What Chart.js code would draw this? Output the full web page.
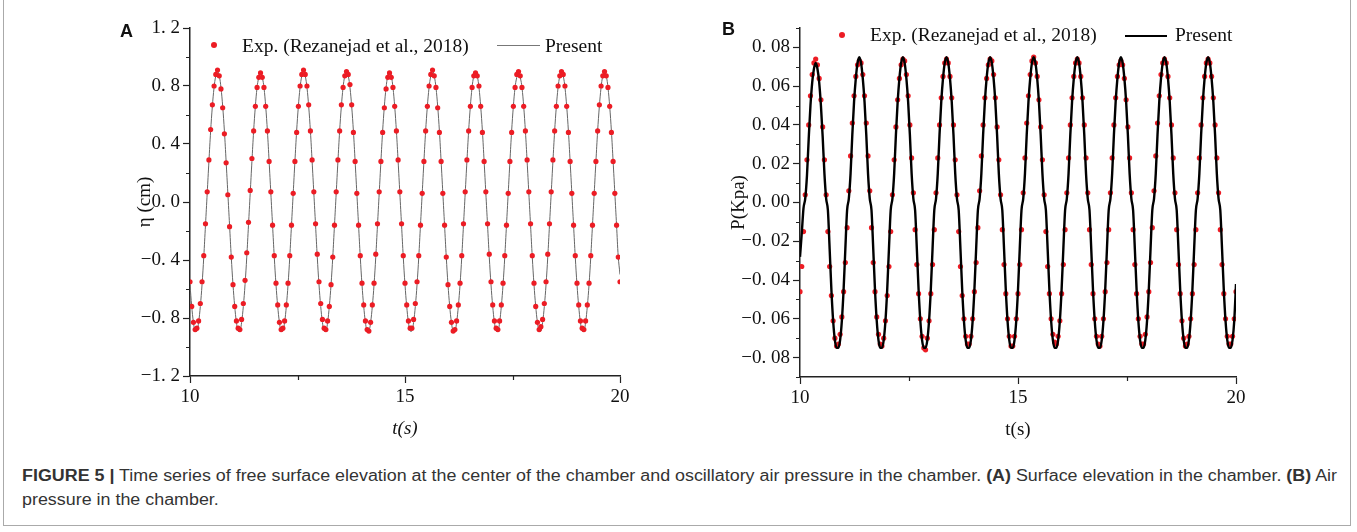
<!DOCTYPE html>
<html>
<head>
<meta charset="utf-8">
<script src="https://cdn.jsdelivr.net/npm/chart.js@4.4.0/dist/chart.umd.min.js"></script>
<style>
  body { margin: 0; background: #fff; }
  #fig { position: relative; width: 1357px; height: 532px; overflow: hidden; }
  #frame { position: absolute; left: 3px; top: -2px; width: 1348px; height: 528px; border: 1px solid #aaa; box-sizing: border-box; }
  canvas { position: absolute; }
  .panel { position: absolute; font: bold 18px "Liberation Sans", Arial, sans-serif; color: #111; }
  .legend { position: absolute; font: 19.5px "Liberation Serif", "Times New Roman", serif; color: #111; white-space: nowrap; line-height: 22px; }
  .dot { position: absolute; width: 6px; height: 6px; border-radius: 50%; background: #ec1c24; }
  .seg { position: absolute; }
  #caption { position: absolute; left: 22px; top: 464px; font: 16px "Liberation Sans", Arial, sans-serif; color: #333; line-height: 24px; white-space: nowrap; transform-origin: 0 0; }
</style>
</head>
<body>
<div id="fig">
  <div id="frame"></div>
  <canvas id="chartA" width="540" height="450" style="left:100px; top:0px; width:540px; height:450px;"></canvas>
  <canvas id="chartB" width="560" height="450" style="left:700px; top:0px; width:560px; height:450px;"></canvas>

  <div class="panel" style="left:120px; top:21px;">A</div>
  <div class="panel" style="left:722px; top:19px;">B</div>

  <div class="dot" style="left:211px; top:42px;"></div>
  <div class="legend" style="left:242px; top:35px;">Exp. (Rezanejad et al., 2018)</div>
  <div class="seg" style="left:497px; top:45px; width:43px; height:1px; background:#777;"></div>
  <div class="legend" style="left:545px; top:35px;">Present</div>

  <div class="dot" style="left:839px; top:32px;"></div>
  <div class="legend" style="left:870px; top:24px;">Exp. (Rezanejad et al., 2018)</div>
  <div class="seg" style="left:1125px; top:35px; width:42px; height:2px; background:#000;"></div>
  <div class="legend" style="left:1175px; top:24px;">Present</div>

  <div id="caption"><span id="cap1"><b>FIGURE 5 |</b> Time series of free surface elevation at the center of the chamber and oscillatory air pressure in the chamber. <b>(A)</b> Surface elevation in the chamber. <b>(B)</b> Air</span><br><span>pressure in the chamber.</span></div>
</div>

<script>
// sample times (s), shared by both panels
const time = [
  10, 10.04, 10.08, 10.12, 10.16, 10.2, 10.24, 10.28, 10.32, 10.36, 10.4, 10.44, 10.48, 10.52, 10.56, 10.6, 10.64, 10.68, 10.72, 10.76, 10.8, 10.84, 10.88, 10.92, 10.96,
  11, 11.04, 11.08, 11.12, 11.16, 11.2, 11.24, 11.28, 11.32, 11.36, 11.4, 11.44, 11.48, 11.52, 11.56, 11.6, 11.64, 11.68, 11.72, 11.76, 11.8, 11.84, 11.88, 11.92, 11.96,
  12, 12.04, 12.08, 12.12, 12.16, 12.2, 12.24, 12.28, 12.32, 12.36, 12.4, 12.44, 12.48, 12.52, 12.56, 12.6, 12.64, 12.68, 12.72, 12.76, 12.8, 12.84, 12.88, 12.92, 12.96,
  13, 13.04, 13.08, 13.12, 13.16, 13.2, 13.24, 13.28, 13.32, 13.36, 13.4, 13.44, 13.48, 13.52, 13.56, 13.6, 13.64, 13.68, 13.72, 13.76, 13.8, 13.84, 13.88, 13.92, 13.96,
  14, 14.04, 14.08, 14.12, 14.16, 14.2, 14.24, 14.28, 14.32, 14.36, 14.4, 14.44, 14.48, 14.52, 14.56, 14.6, 14.64, 14.68, 14.72, 14.76, 14.8, 14.84, 14.88, 14.92, 14.96,
  15, 15.04, 15.08, 15.12, 15.16, 15.2, 15.24, 15.28, 15.32, 15.36, 15.4, 15.44, 15.48, 15.52, 15.56, 15.6, 15.64, 15.68, 15.72, 15.76, 15.8, 15.84, 15.88, 15.92, 15.96,
  16, 16.04, 16.08, 16.12, 16.16, 16.2, 16.24, 16.28, 16.32, 16.36, 16.4, 16.44, 16.48, 16.52, 16.56, 16.6, 16.64, 16.68, 16.72, 16.76, 16.8, 16.84, 16.88, 16.92, 16.96,
  17, 17.04, 17.08, 17.12, 17.16, 17.2, 17.24, 17.28, 17.32, 17.36, 17.4, 17.44, 17.48, 17.52, 17.56, 17.6, 17.64, 17.68, 17.72, 17.76, 17.8, 17.84, 17.88, 17.92, 17.96,
  18, 18.04, 18.08, 18.12, 18.16, 18.2, 18.24, 18.28, 18.32, 18.36, 18.4, 18.44, 18.48, 18.52, 18.56, 18.6, 18.64, 18.68, 18.72, 18.76, 18.8, 18.84, 18.88, 18.92, 18.96,
  19, 19.04, 19.08, 19.12, 19.16, 19.2, 19.24, 19.28, 19.32, 19.36, 19.4, 19.44, 19.48, 19.52, 19.56, 19.6, 19.64, 19.68, 19.72, 19.76, 19.8, 19.84, 19.88, 19.92, 19.96,
  20
];

// panel A: free surface elevation (cm)
const etaExp = [
  -0.55, -0.72, -0.83, -0.88, -0.87, -0.82, -0.70, -0.55, -0.37, -0.15, 0.07, 0.29, 0.50, 0.67, 0.80, 0.88, 0.91, 0.87, 0.78, 0.65, 0.47, 0.27, 0.05, -0.17, -0.38,
  -0.57, -0.72, -0.82, -0.87, -0.88, -0.81, -0.70, -0.54, -0.35, -0.14, 0.08, 0.30, 0.49, 0.66, 0.79, 0.86, 0.89, 0.86, 0.79, 0.66, 0.49, 0.28, 0.07, -0.16, -0.37,
  -0.56, -0.71, -0.83, -0.88, -0.87, -0.82, -0.71, -0.56, -0.37, -0.16, 0.06, 0.28, 0.48, 0.66, 0.80, 0.88, 0.91, 0.88, 0.80, 0.67, 0.49, 0.29, 0.07, -0.15, -0.36,
  -0.55, -0.70, -0.81, -0.87, -0.88, -0.82, -0.72, -0.57, -0.38, -0.16, 0.07, 0.29, 0.49, 0.67, 0.79, 0.87, 0.90, 0.88, 0.81, 0.67, 0.48, 0.28, 0.06, -0.16, -0.37,
  -0.56, -0.71, -0.82, -0.88, -0.89, -0.83, -0.71, -0.56, -0.36, -0.15, 0.07, 0.28, 0.48, 0.65, 0.78, 0.86, 0.89, 0.86, 0.79, 0.66, 0.49, 0.29, 0.07, -0.15, -0.37,
  -0.56, -0.71, -0.82, -0.87, -0.87, -0.81, -0.70, -0.55, -0.37, -0.16, 0.06, 0.28, 0.49, 0.66, 0.80, 0.88, 0.91, 0.87, 0.79, 0.65, 0.48, 0.28, 0.06, -0.16, -0.38,
  -0.57, -0.72, -0.83, -0.89, -0.88, -0.82, -0.71, -0.56, -0.37, -0.15, 0.07, 0.29, 0.49, 0.66, 0.79, 0.87, 0.89, 0.87, 0.80, 0.66, 0.48, 0.28, 0.07, -0.15, -0.36,
  -0.55, -0.71, -0.82, -0.87, -0.88, -0.82, -0.71, -0.56, -0.37, -0.16, 0.06, 0.28, 0.48, 0.66, 0.79, 0.88, 0.90, 0.87, 0.79, 0.66, 0.49, 0.29, 0.07, -0.15, -0.37,
  -0.56, -0.72, -0.83, -0.88, -0.86, -0.81, -0.70, -0.55, -0.36, -0.15, 0.07, 0.29, 0.49, 0.66, 0.80, 0.87, 0.90, 0.88, 0.80, 0.66, 0.48, 0.28, 0.06, -0.16, -0.37,
  -0.56, -0.71, -0.82, -0.87, -0.88, -0.82, -0.71, -0.56, -0.37, -0.16, 0.06, 0.28, 0.49, 0.67, 0.80, 0.87, 0.90, 0.87, 0.79, 0.66, 0.48, 0.28, 0.06, -0.16, -0.38,
  -0.55
];
const etaSim = [
  -0.57, -0.72, -0.83, -0.89, -0.89, -0.83, -0.72, -0.57, -0.38, -0.16, 0.06, 0.28, 0.49, 0.66, 0.79, 0.87, 0.90, 0.87, 0.79, 0.66, 0.49, 0.28, 0.06, -0.16, -0.38,
  -0.57, -0.72, -0.83, -0.89, -0.89, -0.83, -0.72, -0.57, -0.38, -0.16, 0.06, 0.28, 0.49, 0.66, 0.79, 0.86, 0.89, 0.86, 0.79, 0.66, 0.49, 0.28, 0.06, -0.16, -0.38,
  -0.57, -0.72, -0.83, -0.89, -0.89, -0.83, -0.72, -0.57, -0.38, -0.16, 0.06, 0.28, 0.49, 0.66, 0.79, 0.87, 0.91, 0.87, 0.79, 0.66, 0.49, 0.28, 0.06, -0.16, -0.38,
  -0.57, -0.72, -0.83, -0.89, -0.89, -0.83, -0.72, -0.57, -0.38, -0.16, 0.06, 0.28, 0.49, 0.66, 0.79, 0.87, 0.90, 0.87, 0.79, 0.66, 0.49, 0.28, 0.06, -0.16, -0.38,
  -0.57, -0.72, -0.83, -0.89, -0.89, -0.83, -0.72, -0.57, -0.38, -0.16, 0.06, 0.28, 0.49, 0.66, 0.79, 0.87, 0.90, 0.87, 0.79, 0.66, 0.49, 0.28, 0.06, -0.16, -0.38,
  -0.57, -0.72, -0.83, -0.89, -0.89, -0.83, -0.72, -0.57, -0.38, -0.16, 0.06, 0.28, 0.49, 0.66, 0.79, 0.87, 0.91, 0.87, 0.79, 0.66, 0.49, 0.28, 0.06, -0.16, -0.38,
  -0.57, -0.72, -0.83, -0.89, -0.89, -0.83, -0.72, -0.57, -0.38, -0.16, 0.06, 0.28, 0.49, 0.66, 0.79, 0.87, 0.90, 0.87, 0.79, 0.66, 0.49, 0.28, 0.06, -0.16, -0.38,
  -0.57, -0.72, -0.83, -0.89, -0.89, -0.83, -0.72, -0.57, -0.38, -0.16, 0.06, 0.28, 0.49, 0.66, 0.79, 0.86, 0.89, 0.86, 0.79, 0.66, 0.49, 0.28, 0.06, -0.16, -0.38,
  -0.57, -0.72, -0.83, -0.89, -0.89, -0.83, -0.72, -0.57, -0.38, -0.16, 0.06, 0.28, 0.49, 0.66, 0.79, 0.87, 0.91, 0.87, 0.79, 0.66, 0.49, 0.28, 0.06, -0.16, -0.38,
  -0.57, -0.72, -0.83, -0.89, -0.89, -0.83, -0.72, -0.57, -0.38, -0.16, 0.06, 0.28, 0.49, 0.66, 0.79, 0.87, 0.90, 0.87, 0.79, 0.66, 0.49, 0.28, 0.06, -0.16, -0.38,
  -0.50
];

// panel B: air pressure (kPa)
const pExp = [
  -0.046, -0.033, -0.015, 0.004, 0.022, 0.040, 0.055, 0.066, 0.072, 0.074, 0.071, 0.064, 0.053, 0.039, 0.022, 0.004, -0.015, -0.033, -0.048, -0.061, -0.070, -0.074, -0.073, -0.068, -0.059,
  -0.046, -0.031, -0.013, 0.006, 0.024, 0.041, 0.055, 0.065, 0.071, 0.073, 0.072, 0.066, 0.055, 0.041, 0.024, 0.006, -0.013, -0.031, -0.046, -0.059, -0.068, -0.073, -0.074, -0.070, -0.061,
  -0.048, -0.033, -0.015, 0.004, 0.022, 0.039, 0.053, 0.064, 0.071, 0.074, 0.073, 0.066, 0.055, 0.040, 0.023, 0.005, -0.014, -0.032, -0.047, -0.060, -0.069, -0.075, -0.076, -0.070, -0.061,
  -0.047, -0.032, -0.014, 0.005, 0.023, 0.040, 0.054, 0.065, 0.072, 0.074, 0.072, 0.065, 0.054, 0.040, 0.022, 0.004, -0.015, -0.033, -0.048, -0.060, -0.069, -0.073, -0.073, -0.069, -0.060,
  -0.046, -0.031, -0.013, 0.006, 0.024, 0.040, 0.054, 0.064, 0.071, 0.074, 0.073, 0.066, 0.054, 0.039, 0.022, 0.004, -0.014, -0.032, -0.047, -0.060, -0.069, -0.074, -0.074, -0.069, -0.060,
  -0.047, -0.032, -0.014, 0.005, 0.023, 0.041, 0.055, 0.066, 0.073, 0.075, 0.072, 0.065, 0.053, 0.039, 0.022, 0.004, -0.015, -0.033, -0.047, -0.060, -0.068, -0.072, -0.073, -0.069, -0.061,
  -0.047, -0.032, -0.014, 0.005, 0.023, 0.040, 0.054, 0.065, 0.072, 0.074, 0.072, 0.065, 0.054, 0.040, 0.023, 0.005, -0.014, -0.032, -0.047, -0.060, -0.069, -0.073, -0.074, -0.069, -0.060,
  -0.046, -0.031, -0.014, 0.005, 0.023, 0.040, 0.054, 0.065, 0.071, 0.073, 0.071, 0.064, 0.053, 0.039, 0.023, 0.005, -0.014, -0.032, -0.047, -0.060, -0.069, -0.073, -0.073, -0.068, -0.059,
  -0.046, -0.031, -0.013, 0.006, 0.024, 0.041, 0.055, 0.066, 0.072, 0.074, 0.072, 0.065, 0.054, 0.040, 0.023, 0.005, -0.014, -0.032, -0.047, -0.061, -0.070, -0.074, -0.073, -0.069, -0.060,
  -0.047, -0.032, -0.014, 0.005, 0.023, 0.040, 0.054, 0.065, 0.072, 0.074, 0.072, 0.065, 0.054, 0.040, 0.023, 0.005, -0.014, -0.032, -0.047, -0.060, -0.069, -0.073, -0.073, -0.069, -0.060,
  -0.046
];
const pSim = [
  -0.028, -0.016, -0.003, 0.002, 0.014, 0.033, 0.050, 0.062, 0.069, 0.072, 0.069, 0.062, 0.050, 0.034, 0.015, 0.002, -0.004, -0.024, -0.045, -0.061, -0.071, -0.075, -0.075, -0.071, -0.061,
  -0.045, -0.024, -0.004, 0.002, 0.015, 0.035, 0.052, 0.064, 0.072, 0.075, 0.072, 0.064, 0.052, 0.035, 0.015, 0.002, -0.004, -0.024, -0.045, -0.061, -0.071, -0.075, -0.075, -0.071, -0.061,
  -0.045, -0.024, -0.004, 0.002, 0.015, 0.035, 0.052, 0.064, 0.072, 0.075, 0.072, 0.064, 0.052, 0.035, 0.015, 0.002, -0.004, -0.024, -0.045, -0.061, -0.071, -0.075, -0.075, -0.071, -0.061,
  -0.045, -0.024, -0.004, 0.002, 0.015, 0.035, 0.052, 0.064, 0.072, 0.075, 0.072, 0.064, 0.052, 0.035, 0.015, 0.002, -0.004, -0.024, -0.045, -0.061, -0.071, -0.075, -0.075, -0.071, -0.061,
  -0.045, -0.024, -0.004, 0.002, 0.015, 0.035, 0.052, 0.064, 0.072, 0.075, 0.072, 0.064, 0.052, 0.035, 0.015, 0.002, -0.004, -0.024, -0.045, -0.061, -0.071, -0.075, -0.075, -0.071, -0.061,
  -0.045, -0.024, -0.004, 0.002, 0.015, 0.035, 0.052, 0.064, 0.072, 0.075, 0.072, 0.064, 0.052, 0.035, 0.015, 0.002, -0.004, -0.024, -0.045, -0.061, -0.071, -0.075, -0.075, -0.071, -0.061,
  -0.045, -0.024, -0.004, 0.002, 0.015, 0.035, 0.052, 0.064, 0.072, 0.075, 0.072, 0.064, 0.052, 0.035, 0.015, 0.002, -0.004, -0.024, -0.045, -0.061, -0.071, -0.075, -0.075, -0.071, -0.061,
  -0.045, -0.024, -0.004, 0.002, 0.015, 0.035, 0.052, 0.064, 0.072, 0.075, 0.072, 0.064, 0.052, 0.035, 0.015, 0.002, -0.004, -0.024, -0.045, -0.061, -0.071, -0.075, -0.075, -0.071, -0.061,
  -0.045, -0.024, -0.004, 0.002, 0.015, 0.035, 0.052, 0.064, 0.072, 0.075, 0.072, 0.064, 0.052, 0.035, 0.015, 0.002, -0.004, -0.024, -0.045, -0.061, -0.071, -0.075, -0.075, -0.071, -0.061,
  -0.045, -0.024, -0.004, 0.002, 0.015, 0.035, 0.052, 0.064, 0.072, 0.075, 0.072, 0.064, 0.052, 0.035, 0.015, 0.002, -0.004, -0.024, -0.045, -0.061, -0.071, -0.075, -0.075, -0.071, -0.061,
  -0.042
];

// ticks
const xTicks = [10, 15, 20];
const xMinor = [12.5, 17.5];
const yTicksA = [-1.2, -0.8, -0.4, 0, 0.4, 0.8, 1.2];
const yMinorA = [-1.0, -0.6, -0.2, 0.2, 0.6, 1.0];
const yTicksB = [-0.08, -0.06, -0.04, -0.02, 0, 0.02, 0.04, 0.06, 0.08];
const yMinorB = [-0.09, -0.07, -0.05, -0.03, -0.01, 0.01, 0.03, 0.05, 0.07, 0.09];

const serif = '"Liberation Serif", "Times New Roman", serif';
const axisColor = '#222';

// "0. 08" style labels like the original plot
function fmt(v, d) {
    let s = Math.abs(v).toFixed(d).replace('.', '. ');
    return (v < -1e-9 ? '\u2212' : '') + s;
}

const minorTicks = {
    id: 'minorTicks',
    afterDraw(chart, args, opts) {
        let ctx = chart.ctx;
        let xs = chart.scales.x, ys = chart.scales.y;
        ctx.save();
        ctx.strokeStyle = axisColor;
        ctx.lineWidth = 1.2;
        ctx.beginPath();
        opts.x.forEach(v => {
            let px = Math.round(xs.getPixelForValue(v)) + 0.5;
            ctx.moveTo(px, xs.top);
            ctx.lineTo(px, xs.top + 4);
        });
        opts.y.forEach(v => {
            let py = Math.round(ys.getPixelForValue(v)) + 0.5;
            ctx.moveTo(ys.right, py);
            ctx.lineTo(ys.right - 4, py);
        });
        ctx.stroke();
        ctx.restore();
    }
};

function pts(ys) {
    return time.map((t, i) => ({x: t, y: ys[i]}));
}

function makeChart(id, o) {
    return new Chart(document.getElementById(id), {
        type: 'line',
        data: { datasets: o.datasets },
        plugins: [minorTicks],
        options: {
            responsive: false,
            animation: false,
            layout: { padding: o.padding },
            plugins: {
                legend: { display: false },
                tooltip: { enabled: false },
                minorTicks: { x: xMinor, y: o.yMinor }
            },
            scales: {
                x: {
                    type: 'linear', min: 10, max: 20,
                    afterBuildTicks: s => { s.ticks = xTicks.map(v => ({value: v})); },
                    afterFit: s => { s.height = o.xHeight; },
                    grid: { drawOnChartArea: false, tickLength: 7, tickColor: axisColor, tickWidth: 1.2 },
                    border: { color: axisColor, width: 1.5 },
                    ticks: { font: {family: serif, size: 19}, color: '#111', padding: 3, maxRotation: 0, autoSkip: false },
                    title: { display: true, text: 't(s)', color: '#111',
                             font: {family: serif, size: 19, style: o.xStyle},
                             padding: {top: 0, bottom: o.xTitlePad} }
                },
                y: {
                    type: 'linear', min: o.yMin, max: o.yMax,
                    afterBuildTicks: s => { s.ticks = o.yTicks.map(v => ({value: v})); },
                    afterFit: s => { s.width = o.yWidth; },
                    grid: { drawOnChartArea: false, tickLength: 7, tickColor: axisColor, tickWidth: 1.2 },
                    border: { color: axisColor, width: 1.5 },
                    ticks: { font: {family: serif, size: 19}, color: '#111', padding: 3, autoSkip: false,
                             callback: v => fmt(v, o.dec) },
                    title: { display: true, text: o.yTitle, color: '#111',
                             font: {family: serif, size: 19}, padding: {top: 0, bottom: 0} }
                }
            }
        }
    });
}

makeChart('chartA', {
    padding: {left: 34, right: 20, top: 28, bottom: 0},
    xHeight: 74, yWidth: 56, xTitlePad: 10, xStyle: 'italic',
    yMin: -1.2, yMax: 1.2, yTicks: yTicksA, yMinor: yMinorA, dec: 1,
    yTitle: '\u03b7 (cm)',
    datasets: [
        { label: 'Exp. (Rezanejad et al., 2018)', data: pts(etaExp), showLine: false,
          pointRadius: 2.6, pointBackgroundColor: '#ec1c24', pointBorderWidth: 0, order: 0 },
        { label: 'Present', data: pts(etaSim), borderColor: '#666', borderWidth: 1,
          pointRadius: 0, tension: 0.4, order: 1 }
    ]
});

makeChart('chartB', {
    padding: {left: 28, right: 24, top: 28, bottom: 0},
    xHeight: 73, yWidth: 72, xTitlePad: 9, xStyle: 'normal',
    yMin: -0.09, yMax: 0.09, yTicks: yTicksB, yMinor: yMinorB, dec: 2,
    yTitle: 'P(Kpa)',
    datasets: [
        { label: 'Present', data: pts(pSim), borderColor: '#000', borderWidth: 2.4,
          pointRadius: 0, cubicInterpolationMode: 'monotone', order: 0 },
        { label: 'Exp. (Rezanejad et al., 2018)', data: pts(pExp), showLine: false,
          pointRadius: 2.6, pointBackgroundColor: '#ec1c24', pointBorderWidth: 0, order: 1 }
    ]
});

// squeeze the caption so the first line ends where the original does
let cap = document.getElementById('caption');
let w = document.getElementById('cap1').getBoundingClientRect().width;
cap.style.transform = 'scaleX(' + (1315 / w) + ')';
</script>
</body>
</html>
